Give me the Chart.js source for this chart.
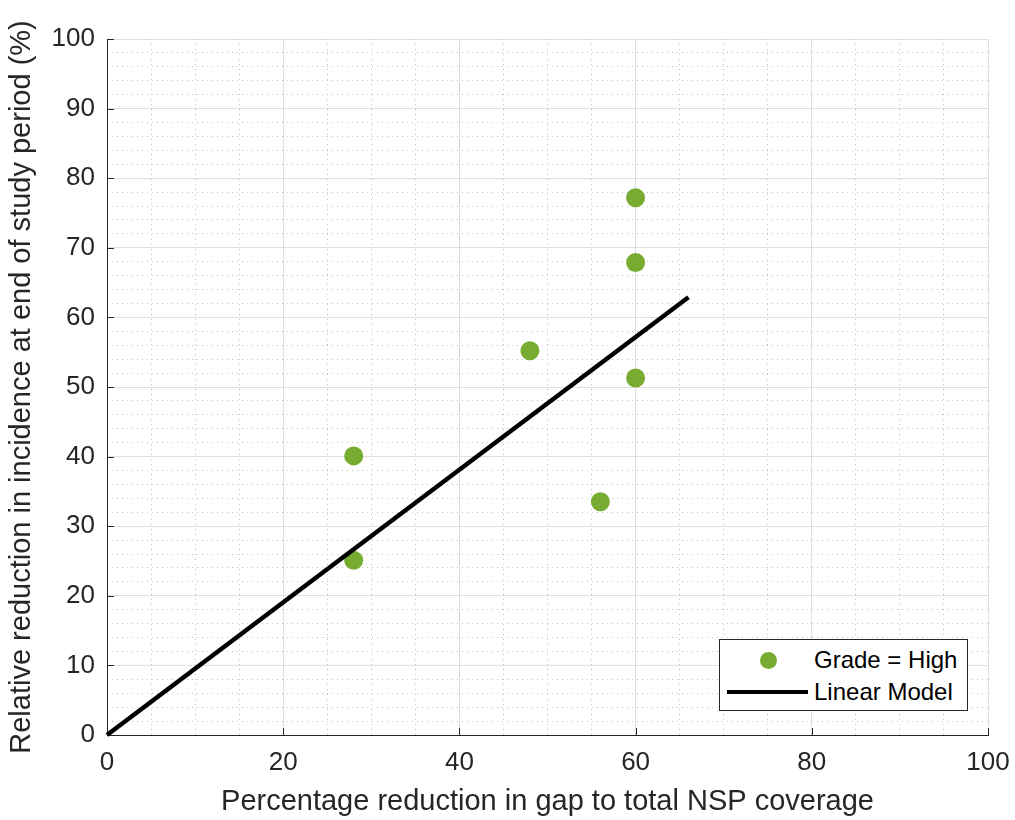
<!DOCTYPE html>
<html>
<head>
<meta charset="utf-8">
<script src="https://cdn.jsdelivr.net/npm/chart.js@4/dist/chart.umd.min.js"></script>
<style>
  html, body { margin: 0; padding: 0; background: #ffffff; }
  #wrap { position: relative; width: 1015px; height: 820px; }
  canvas { display: block; }
  #legend {
    position: absolute; left: 719px; top: 639px; width: 249px; height: 72px;
    box-sizing: border-box; border: 1px solid #262626; background: #ffffff;
    font-family: "Liberation Sans", Arial, Helvetica, sans-serif; font-size: 24px; color: #000000;
  }
  .row { position: absolute; left: 0; width: 100%; height: 24px; }
  .txt { position: absolute; left: 94px; top: 0; line-height: 24px; white-space: nowrap; }
  .dot { position: absolute; border-radius: 50%; }
  .seg { position: absolute; }
</style>
</head>
<body>
<div id="wrap">
  <canvas id="c" width="1015" height="820"></canvas>
  <div id="legend"></div>
</div>
<script>
// ---- data ----
const gapReduction       = [28, 28, 48, 56, 60, 60, 60];
const incidenceReduction = [40.1, 25.1, 55.2, 33.5, 77.2, 67.9, 51.3];
const modelX = [0, 66];
const modelY = [0, 62.9];
const xMajorTicks = [0, 20, 40, 60, 80, 100];
const yMajorTicks = [0, 10, 20, 30, 40, 50, 60, 70, 80, 90, 100];
const seriesLabels = ['Grade = High', 'Linear Model'];
const xTitle = 'Percentage reduction in gap to total NSP coverage';
const yTitle = 'Relative reduction in incidence at end of study period (%)';

const FONT = '"Liberation Sans", Arial, Helvetica, sans-serif';
const AXIS_COLOR = '#262626';
const MAJOR_GRID = '#dfdfdf';
const MINOR_GRID = '#c2c2c2';
const GREEN = '#77AC30';

const scatterData = gapReduction.map((x, i) => ({ x: x, y: incidenceReduction[i] }));
const modelData = modelX.map((x, i) => ({ x: x, y: modelY[i] }));

const inwardTicks = {
  id: 'inwardTicks',
  beforeDatasetsDraw(chart) {
    const { ctx, chartArea: a, scales } = chart;
    const x = scales.x, y = scales.y;
    ctx.save();
    ctx.strokeStyle = AXIS_COLOR;
    ctx.lineWidth = 1;
    ctx.beginPath();
    x.ticks.forEach(t => {
      const px = Math.round(x.getPixelForValue(t.value)) + 0.5;
      ctx.moveTo(px, a.bottom); ctx.lineTo(px, a.bottom - 7);
    });
    y.ticks.forEach(t => {
      const py = Math.round(y.getPixelForValue(t.value)) + 0.5;
      ctx.moveTo(a.left, py); ctx.lineTo(a.left + 7, py);
    });
    ctx.stroke();
    ctx.restore();
  }
};

function minorColor(major) {
  return ctx => (ctx.tick && Math.abs(ctx.tick.value % major) < 1e-9) ? 'rgba(0,0,0,0)' : MINOR_GRID;
}

const chart = new Chart(document.getElementById('c'), {
  type: 'scatter',
  data: {
    datasets: [
      {
        label: seriesLabels[0],
        data: scatterData,
        backgroundColor: GREEN,
        borderColor: GREEN,
        borderWidth: 0,
        pointRadius: 9.5,
        pointHoverRadius: 9.5,
        order: 2
      },
      {
        label: seriesLabels[1],
        type: 'line',
        data: modelData,
        borderColor: '#000000',
        backgroundColor: '#000000',
        borderWidth: 4.5,
        pointRadius: 0,
        showLine: true,
        fill: false,
        clip: false,
        order: 1
      }
    ]
  },
  options: {
    responsive: false,
    animation: false,
    events: [],
    layout: { padding: { top: 39, right: 27, left: 0, bottom: 0 } },
    plugins: { legend: { display: false }, tooltip: { enabled: false } },
    scales: {
      x: {
        type: 'linear', position: 'bottom', min: 0, max: 100,
        afterBuildTicks: s => { s.ticks = xMajorTicks.map(v => ({ value: v })); },
        afterFit: s => { s.height = 85; s.paddingLeft = 0; s.paddingRight = 0; },
        ticks: { autoSkip: false, maxRotation: 0, padding: 12, color: AXIS_COLOR, font: { family: FONT, size: 26 } },
        grid: { color: MAJOR_GRID, lineWidth: 1, drawTicks: false },
        border: { display: true, color: AXIS_COLOR, width: 1 },
        title: { display: true, text: xTitle, color: AXIS_COLOR, font: { family: FONT, size: 29 }, padding: { top: 6, bottom: 1 } }
      },
      y: {
        type: 'linear', position: 'left', min: 0, max: 100,
        afterBuildTicks: s => { s.ticks = yMajorTicks.map(v => ({ value: v })); },
        afterFit: s => { s.width = 107; s.paddingTop = 0; s.paddingBottom = 0; },
        ticks: { autoSkip: false, padding: 12, color: AXIS_COLOR, font: { family: FONT, size: 26 } },
        grid: { color: MAJOR_GRID, lineWidth: 1, drawTicks: false },
        border: { display: true, color: AXIS_COLOR, width: 1 },
        title: { display: true, text: yTitle, color: AXIS_COLOR, font: { family: FONT, size: 29 }, padding: { top: 5, bottom: 6 } }
      },
      xMinor: {
        type: 'linear', axis: 'x', position: 'top', min: 0, max: 100,
        afterFit: s => { s.height = 0; s.paddingLeft = 0; s.paddingRight = 0; },
        ticks: { display: false, stepSize: 5, autoSkip: false },
        grid: { color: minorColor(20), lineWidth: 1, drawTicks: false },
        border: { display: false, dash: [1, 4] }
      },
      yMinor: {
        type: 'linear', axis: 'y', position: 'right', min: 0, max: 100,
        afterFit: s => { s.width = 0; s.paddingTop = 0; s.paddingBottom = 0; },
        ticks: { display: false, stepSize: 2, autoSkip: false },
        grid: { color: minorColor(10), lineWidth: 1, drawTicks: false },
        border: { display: false, dash: [1, 4] }
      }
    }
  },
  plugins: [inwardTicks]
});

// ---- legend built from the chart's datasets ----
(function buildLegend() {
  const box = document.getElementById('legend');
  const rowCenters = [20, 52];
  chart.data.datasets.forEach((ds, i) => {
    const row = document.createElement('div');
    row.className = 'row';
    row.style.top = (rowCenters[i] - 12) + 'px';
    if (ds.type === 'line') {
      const seg = document.createElement('div');
      seg.className = 'seg';
      seg.style.left = '7px'; seg.style.width = '81px';
      seg.style.top = (12 - ds.borderWidth / 2) + 'px';
      seg.style.height = ds.borderWidth + 'px';
      seg.style.background = ds.borderColor;
      row.appendChild(seg);
    } else {
      const d = document.createElement('div');
      d.className = 'dot';
      const r = 8.5;
      d.style.width = (2 * r) + 'px'; d.style.height = (2 * r) + 'px';
      d.style.left = (48 - r) + 'px'; d.style.top = (12 - r) + 'px';
      d.style.background = ds.backgroundColor;
      row.appendChild(d);
    }
    const t = document.createElement('span');
    t.className = 'txt';
    t.textContent = ds.label;
    row.appendChild(t);
    box.appendChild(row);
  });
})();
</script>
</body>
</html>
